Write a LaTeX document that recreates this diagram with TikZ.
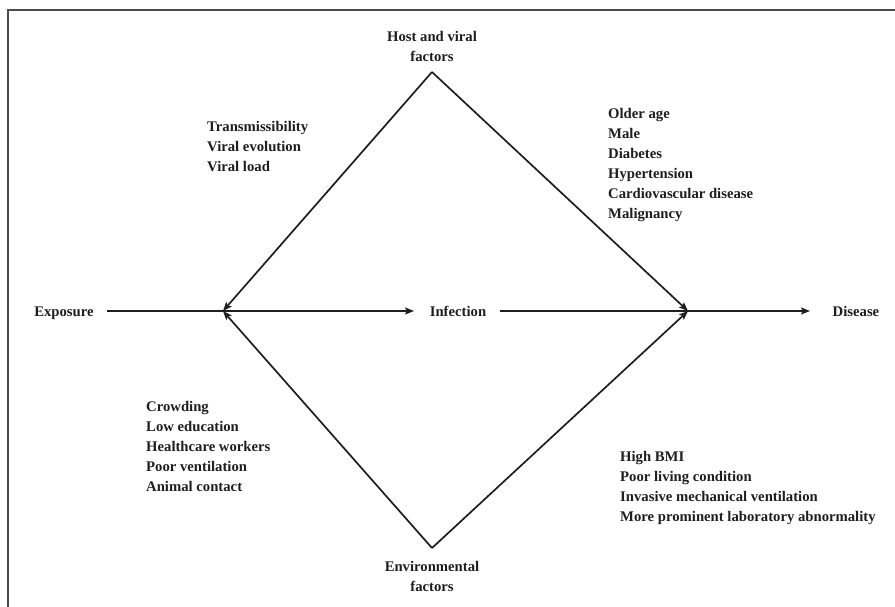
\documentclass[tikz,border=0pt]{standalone}
\usepackage{fontspec}
\setmainfont{Liberation Serif}
\usetikzlibrary{arrows.meta}
\definecolor{ink}{HTML}{1E1E1E}
\begin{document}
\begin{tikzpicture}[x=1pt,y=-1pt,
  every node/.style={font=\fontsize{14.7}{20}\selectfont\bfseries, text=ink, inner sep=0pt},
  lbl/.style={anchor=base},
  lst/.style={anchor=north west, align=left},
  hd/.style={anchor=north, align=center},
  conn/.style={draw=ink, line width=1.7pt, -{Stealth[length=9pt,width=7pt,inset=1.8pt]}},
  frame/.style={draw=ink!80, line width=2.2pt}
]
\useasboundingbox (0,0) rectangle (895,607);
\draw[frame] (895,10) -- (8,10) -- (8,607);

% labels on the main line
\node[lbl] (expo) at (64,316) {Exposure};
\node[lbl] (inf) at (458,316) {Infection};
\node[lbl] (dis) at (856,316) {Disease};

% factor headings
\node[hd] (host) at (432,31.5) {Host and viral\\factors};
\node[hd] (env) at (432,561.5) {Environmental\\factors};

% diamond corners
\coordinate (T) at (432,72);
\coordinate (B) at (432,548);
\coordinate (L) at (223,311);
\coordinate (R) at (688,311);
\coordinate (e1) at (107,311);
\coordinate (i1) at (414,311);
\coordinate (i2) at (500,311);
\coordinate (d1) at (810,311);

% lists
\node[lst] (lt) at (207,121.5) {Transmissibility\\Viral evolution\\Viral load};
\node[lst] (rt) at (608,108.5) {Older age\\Male\\Diabetes\\Hypertension\\Cardiovascular disease\\Malignancy};
\node[lst] (lb) at (146,401.5) {Crowding\\Low education\\Healthcare workers\\Poor ventilation\\Animal contact};
\node[lst] (rb) at (620,451.5) {High BMI\\Poor living condition\\Invasive mechanical ventilation\\More prominent laboratory abnormality};

% connectors
\draw[conn] (e1) -- (i1);
\draw[conn] (i2) -- (d1);
\draw[conn] (T) -- (L);
\draw[conn] (B) -- (L);
\draw[conn] (T) -- (R);
\draw[conn] (B) -- (R);
\end{tikzpicture}
\end{document}
